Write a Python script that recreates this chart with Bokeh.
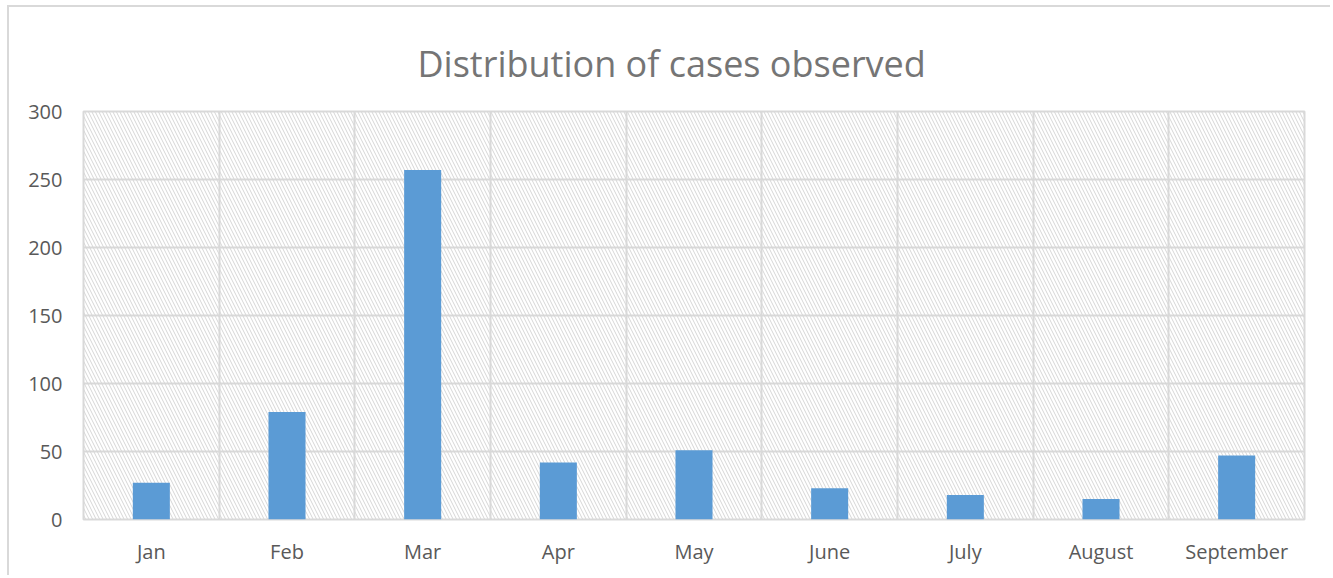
from bokeh.plotting import figure
from bokeh.models import Range1d, FixedTicker, BoxAnnotation, Grid
from bokeh.embed import file_html
from bokeh.resources import INLINE

title_text = "Distribution of cases observed"
months = ["Jan", "Feb", "Mar", "Apr", "May", "June", "July", "August", "September"]
cases = [27, 79, 257, 42, 51, 23, 18, 15, 47]
y_ticks = [0, 50, 100, 150, 200, 250, 300]

centers = [i + 0.5 for i in range(len(months))]
bounds = list(range(len(months) + 1))

p = figure(width=1323, height=570, output_backend="svg", toolbar_location=None,
           x_range=Range1d(0, len(months)), y_range=Range1d(0, 300),
           min_border_left=74, min_border_right=28, min_border_top=104, min_border_bottom=58)

p.styles = {"border-left": "2px solid #D9D9D9", "border-top": "2px solid #D9D9D9",
            "margin-left": "7px", "margin-top": "5px"}

p.title.text = title_text
p.title.align = "left"
p.title.offset = 334
p.title.vertical_align = "top"
p.title.standoff = 43
p.title.text_font = "Open Sans"
p.title.text_font_size = "36px"
p.title.text_font_style = "normal"
p.title.text_color = "#757575"

p.outline_line_color = "#D9D9D9"
p.outline_line_width = 2

bg = BoxAnnotation(fill_alpha=0, line_alpha=0, hatch_pattern="\\", hatch_color="#D6D6D6",
                   hatch_scale=7, hatch_weight=1, level="underlay")
p.add_layout(bg)

p.xgrid.visible = False
p.add_layout(Grid(dimension=0, ticker=FixedTicker(ticks=bounds), grid_line_color="#D9D9D9",
                  grid_line_width=2))
p.ygrid.ticker = FixedTicker(ticks=y_ticks)
p.ygrid.grid_line_color = "#D9D9D9"
p.ygrid.grid_line_width = 2

p.vbar(x=centers, top=cases, width=0.273, fill_color="#5B9BD5", line_color=None)

p.xaxis.ticker = FixedTicker(ticks=centers)
p.xaxis.major_label_overrides = {c: m for c, m in zip(centers, months)}
p.yaxis.ticker = FixedTicker(ticks=y_ticks)
for ax in (p.xaxis, p.yaxis):
    ax.axis_line_color = None
    ax.major_tick_line_color = None
    ax.minor_tick_line_color = None
    ax.major_label_text_font = "Open Sans"
    ax.major_label_text_font_size = "20px"
    ax.major_label_text_color = "#595959"
p.xaxis.major_label_standoff = 12
p.yaxis.major_label_standoff = 15

open("out.html", "w").write(file_html(p, INLINE))
